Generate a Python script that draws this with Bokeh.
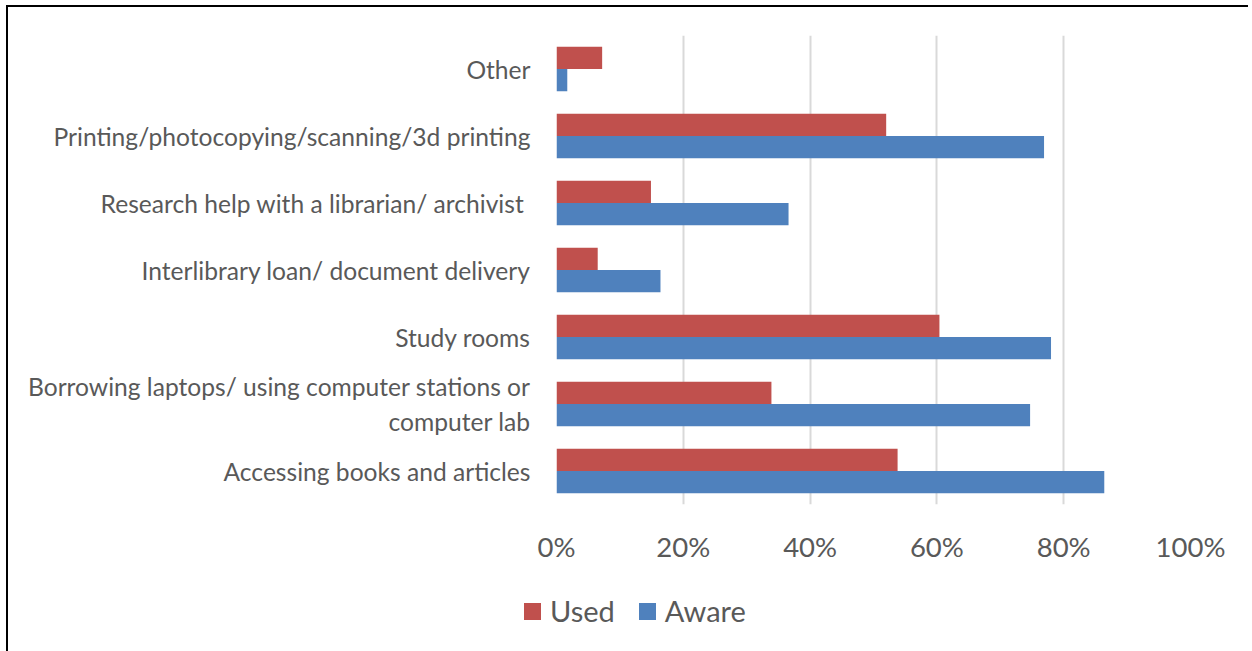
from bokeh.plotting import figure
from bokeh.models import (FixedTicker, PrintfTickFormatter, Range1d, FactorRange,
                          ColumnDataSource, Div)
from bokeh.layouts import column
from bokeh.transform import dodge
from bokeh.embed import file_html
from bokeh.resources import INLINE

# ---- data (bottom category first, as in the source chart) ----
categories = [
    "Accessing books and articles",
    "Borrowing laptops/ using computer stations or\ncomputer lab",
    "Study rooms",
    "Interlibrary loan/ document delivery",
    "Research help with a librarian/ archivist ",
    "Printing/photocopying/scanning/3d printing",
    "Other",
]
used = [53.8, 33.9, 60.4, 6.5, 14.9, 52.0, 7.2]
aware = [86.4, 74.7, 78.0, 16.4, 36.6, 76.9, 1.7]
x_ticks = [0, 20, 40, 60, 80, 100]
series = ["Used", "Aware"]
colors = ["#C0504D", "#4F81BD"]

FONT = "Lato"
TXT = "#595959"
W = 1248

src = ColumnDataSource(dict(cat=categories, used=used, aware=aware))

p = figure(width=W, height=565,
           x_range=Range1d(0, 100),
           y_range=FactorRange(*categories, range_padding=0),
           output_backend="svg", toolbar_location=None,
           min_border_left=556, min_border_right=58,
           min_border_top=35, min_border_bottom=57)
p.styles = {"box-shadow": "inset 6px 5px 0 0 #fff, inset 8px 7px 0 0 #000"}
p.outline_line_color = None
p.background_fill_color = "white"
p.border_fill_color = None

bar_h = 0.333
r_used = p.hbar(y=dodge("cat", bar_h / 2, range=p.y_range), right="used", left=0,
                height=bar_h, source=src, fill_color=colors[0], line_color=None)
r_aware = p.hbar(y=dodge("cat", -bar_h / 2, range=p.y_range), right="aware", left=0,
                 height=bar_h, source=src, fill_color=colors[1], line_color=None)

# x axis
p.xaxis.ticker = FixedTicker(ticks=x_ticks)
p.xaxis.formatter = PrintfTickFormatter(format="%d%%")
p.xaxis.axis_line_color = None
p.xaxis.major_tick_line_color = None
p.xaxis.minor_tick_line_color = None
p.xaxis.major_label_text_font = FONT
p.xaxis.major_label_text_font_size = "27.5px"
p.xaxis.major_label_text_color = TXT
p.xaxis.major_label_standoff = 19

# y axis
p.yaxis.axis_line_color = None
p.yaxis.major_tick_line_color = None
p.yaxis.minor_tick_line_color = None
p.yaxis.major_label_text_font = FONT
p.yaxis.major_label_text_font_size = "24.6px"
p.yaxis.major_label_text_color = TXT
p.yaxis.major_label_standoff = 20

p.xgrid.grid_line_color = "#D9D9D9"
p.xgrid.grid_line_width = 2
p.xgrid.ticker = FixedTicker(ticks=x_ticks)
p.ygrid.grid_line_color = None

# ---- legend strip below the chart (HTML legend keyed to the series) ----
items_html = ""
for i, (name, col) in enumerate(zip(series, colors)):
    gap = "24px" if i < len(series) - 1 else "0"
    items_html += (
        f'<span style="display:inline-block;width:17px;height:17px;'
        f'background:{col};margin-right:9px;flex:none"></span>'
        f'<span style="margin-right:{gap};line-height:32px">{name}</span>'
    )
legend_html = (
    f'<div style="display:flex;align-items:center;height:32px;margin-top:30px;'
    f'padding-left:524px;font-family:{FONT};font-size:29px;color:{TXT};'
    f'white-space:nowrap">{items_html}</div>'
)
leg = Div(text=legend_html, width=W, height=86,
          styles={"box-shadow": "inset 6px 0 0 0 #fff, inset 8px 0 0 0 #000",
                  "margin": "0", "padding": "0"})

open("out.html", "w").write(file_html(column(p, leg, spacing=0), INLINE))
